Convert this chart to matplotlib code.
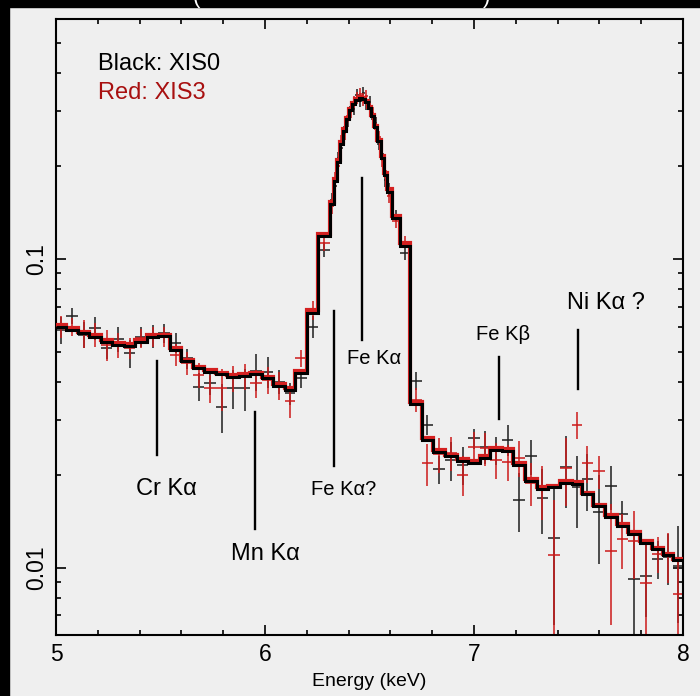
import matplotlib
matplotlib.use("Agg")
import matplotlib.pyplot as plt
import numpy as np
from matplotlib.patches import Rectangle
from matplotlib.ticker import FixedLocator, MultipleLocator, NullFormatter, LogLocator

plt.rcParams['font.family'] = ['Liberation Sans', 'DejaVu Sans']

# Spectral bin edges (keV)
edges = [5.0, 5.05, 5.105, 5.16, 5.215, 5.27, 5.325, 5.38, 5.435, 5.49, 5.545, 5.6,
         5.655, 5.71, 5.765, 5.82, 5.875, 5.93, 5.985, 6.04, 6.095, 6.145, 6.2, 6.255,
         6.311, 6.328, 6.343, 6.358, 6.373, 6.388, 6.403, 6.418, 6.433, 6.448, 6.463,
         6.478, 6.493, 6.508, 6.523, 6.538, 6.553, 6.568, 6.583, 6.606, 6.646, 6.694,
         6.75, 6.805, 6.861, 6.917, 6.973, 7.029, 7.077, 7.133, 7.188, 7.244, 7.3,
         7.355, 7.411, 7.467, 7.515, 7.571, 7.627, 7.683, 7.738, 7.794, 7.85, 7.906,
         7.954, 8.0]

# Best-fit model, XIS0
model_xis0 = [0.0600, 0.0588, 0.0574, 0.0557, 0.0539, 0.0526, 0.0523, 0.0539, 0.0557,
              0.0562, 0.0507, 0.0465, 0.0442, 0.0431, 0.0422, 0.0415, 0.0417, 0.0422,
              0.0410, 0.0387, 0.0376, 0.0425, 0.0666,
              0.1187, 0.150, 0.178, 0.205, 0.235, 0.260, 0.284, 0.303, 0.317, 0.326,
              0.331, 0.330, 0.322, 0.308, 0.290, 0.266, 0.240, 0.212, 0.186, 0.165,
              0.135, 0.110,
              0.0338, 0.0259, 0.0237, 0.0229, 0.0222, 0.0218, 0.0227, 0.0240, 0.0239,
              0.0215, 0.0190, 0.0179, 0.0182, 0.0188, 0.0187, 0.0173, 0.0158, 0.0146,
              0.0136, 0.0128, 0.0120, 0.0115, 0.0110, 0.0106]

# Best-fit model, XIS3
model_xis3 = [0.0608, 0.0595, 0.0580, 0.0565, 0.0546, 0.0532, 0.0530, 0.0546, 0.0565,
              0.0568, 0.0513, 0.0470, 0.0447, 0.0436, 0.0427, 0.0420, 0.0422, 0.0427,
              0.0415, 0.0392, 0.0381, 0.0432, 0.0680,
              0.1200, 0.153, 0.181, 0.208, 0.238, 0.262, 0.286, 0.305, 0.319, 0.328,
              0.333, 0.331, 0.323, 0.309, 0.291, 0.268, 0.242, 0.215, 0.189, 0.168,
              0.137, 0.112,
              0.0344, 0.0263, 0.0240, 0.0232, 0.0225, 0.0221, 0.0230, 0.0243, 0.0242,
              0.0218, 0.0193, 0.0182, 0.0184, 0.0190, 0.0189, 0.0175, 0.0160, 0.0148,
              0.0138, 0.0130, 0.0122, 0.0116, 0.0111, 0.0107]

# Observed counts, XIS0
data_xis0 = [0.0588, 0.0653, 0.0567, 0.0596, 0.0513, 0.0549, 0.0494, 0.0559, 0.0562,
             0.0574, 0.0535, 0.0476, 0.0385, 0.0397, 0.0332, 0.0381, 0.0381, 0.0433,
             0.0431, 0.0400, 0.0367, 0.0410, 0.0603,
             0.107, 0.155, 0.172, 0.212, 0.228, 0.266, 0.279, 0.310, 0.305, 0.338,
             0.325, 0.345, 0.318, 0.322, 0.284, 0.274, 0.236, 0.218, 0.180, 0.168,
             0.138, 0.104,
             0.0403, 0.0290, 0.0208, 0.0223, 0.0215, 0.0262, 0.0246, 0.0240, 0.0259,
             0.0166, 0.0229, 0.0168, 0.0125, 0.0211, 0.0182, 0.0193, 0.0151, 0.0184,
             0.0149, 0.0092, 0.0094, 0.0107, 0.0108, 0.0101]
err_xis0 = [0.006, 0.004, 0.0055, 0.005, 0.004, 0.005, 0.005, 0.004, 0.005, 0.004,
            0.004, 0.0035, 0.004, 0.0035, 0.006, 0.0055, 0.006, 0.006, 0.005, 0.0035,
            0.003, 0.003, 0.005,
            0.006, 0.008, 0.009, 0.010, 0.011, 0.012, 0.013, 0.014, 0.014, 0.015,
            0.015, 0.015, 0.015, 0.015, 0.013, 0.013, 0.011, 0.010, 0.009, 0.008,
            0.006, 0.005,
            0.0028, 0.0022, 0.0022, 0.0032, 0.003, 0.002, 0.003, 0.0025, 0.003,
            0.0036, 0.003, 0.004, 0.006, 0.0055, 0.0048, 0.004, 0.0048, 0.003,
            0.0015, 0.0037, 0.0025, 0.0015, 0.002, 0.0035]

# Observed counts, XIS3
data_xis3 = [0.0603, 0.0603, 0.0574, 0.0567, 0.0526, 0.0526, 0.0513, 0.0552, 0.0559,
             0.0559, 0.0488, 0.0459, 0.0420, 0.0381, 0.0381, 0.0410, 0.0415, 0.0395,
             0.0405, 0.0390, 0.0345, 0.0476, 0.0682,
             0.112, 0.148, 0.182, 0.200, 0.240, 0.255, 0.290, 0.298, 0.322, 0.331,
             0.342, 0.328, 0.336, 0.305, 0.296, 0.262, 0.248, 0.208, 0.192, 0.160,
             0.132, 0.113,
             0.0350, 0.0218, 0.0233, 0.0235, 0.0200, 0.0246, 0.0243, 0.0223, 0.0220,
             0.0226, 0.0188, 0.0178, 0.0110, 0.0210, 0.0290, 0.0218, 0.0205, 0.0113,
             0.0124, 0.0122, 0.0089, 0.0111, 0.0109, 0.0082]
err_xis3 = [0.005, 0.004, 0.006, 0.005, 0.006, 0.005, 0.004, 0.004, 0.004, 0.004,
            0.004, 0.004, 0.004, 0.004, 0.006, 0.004, 0.004, 0.004, 0.004, 0.004,
            0.004, 0.003, 0.005,
            0.006, 0.008, 0.009, 0.010, 0.011, 0.012, 0.013, 0.013, 0.014, 0.015,
            0.015, 0.015, 0.015, 0.014, 0.013, 0.012, 0.011, 0.010, 0.009, 0.008,
            0.006, 0.005,
            0.003, 0.0034, 0.003, 0.003, 0.003, 0.0028, 0.003, 0.003, 0.003, 0.003,
            0.003, 0.0035, 0.0056, 0.0052, 0.0029, 0.003, 0.0025, 0.0048, 0.0025,
            0.003, 0.0032, 0.0015, 0.002, 0.0026]

# Line identifications: label, energy, marker bottom/top, label position, size
line_names = ['Cr K\u03b1', 'Mn K\u03b1', 'Fe K\u03b1?', 'Fe K\u03b1', 'Fe K\u03b2', 'Ni K\u03b1 ?']
line_energy = [5.482, 5.952, 6.33, 6.463, 7.121, 7.499]
line_lo = [0.0232, 0.0133, 0.0213, 0.0546, 0.0303, 0.0379]
line_hi = [0.0467, 0.0320, 0.0679, 0.183, 0.0481, 0.0588]
label_x = [5.529, 6.002, 6.378, 6.524, 7.139, 7.632]
label_y = [0.01719, 0.01059, 0.01719, 0.0456, 0.0545, 0.0687]
label_size = [17, 17, 14.5, 14.5, 14.5, 17]

BG = '#efefef'
RED = '#cc1a1a'

fig = plt.figure(figsize=(7.0, 6.96), dpi=100, facecolor=BG)
# dark frame strips along the top and left edges
fig.patches.append(Rectangle((0, 1 - 7 / 696), 1, 7 / 696, transform=fig.transFigure,
                             color='black', zorder=0))
fig.patches.append(Rectangle((0, 0), 9 / 700, 1, transform=fig.transFigure,
                             color='black', zorder=0))
fig.text(196 / 700, 1 - 8 / 696, '(', color='white', fontsize=16, ha='center', va='bottom')
fig.text(487 / 700, 1 - 8 / 696, ')', color='white', fontsize=16, ha='center', va='bottom')

ax = fig.add_axes([56 / 700, 61 / 696, 627 / 700, 616 / 696], facecolor=BG)
ax.set_yscale('log')

e = np.asarray(edges)
centers = 0.5 * (e[1:] + e[:-1])
halfw = 0.5 * np.diff(e)

ax.errorbar(centers, data_xis0, xerr=halfw, yerr=err_xis0, fmt='none',
            ecolor='#1e1e1e', elinewidth=1.1, capsize=0, zorder=2)
ax.errorbar(centers, data_xis3, xerr=halfw, yerr=err_xis3, fmt='none',
            ecolor=RED, elinewidth=1.1, capsize=0, zorder=2)
ax.stairs(model_xis3, edges, baseline=None, color='#d42020', lw=3.0, zorder=3)
ax.stairs(model_xis0, edges, baseline=None, color='black', lw=2.2, zorder=4)

for name, en, lo, hi, lx, ly, fs in zip(line_names, line_energy, line_lo, line_hi,
                                        label_x, label_y, label_size):
    ax.plot([en, en], [lo, hi], color='black', lw=1.7, zorder=5)
    ax.text(lx, ly, name, fontsize=fs, ha='center', va='baseline', zorder=6)

ax.text(0.067, 0.918, 'Black: XIS0', transform=ax.transAxes, fontsize=17,
        color='black', va='baseline')
ax.text(0.067, 0.8696, 'Red: XIS3', transform=ax.transAxes, fontsize=17,
        color='#a81010', va='baseline')

ax.set_xlim(5, 8)
ax.set_ylim(0.00605, 0.597)

ax.xaxis.set_major_locator(FixedLocator([5, 6, 7, 8]))
ax.xaxis.set_minor_locator(MultipleLocator(0.2))
ax.set_yticks([0.01, 0.1])
ax.set_yticklabels(['0.01', '0.1'])
ax.yaxis.set_minor_locator(LogLocator(base=10, subs=np.arange(2, 10)))
ax.yaxis.set_minor_formatter(NullFormatter())

ax.tick_params(which='both', direction='in', top=True, right=True, width=1.2,
               colors='black')
ax.tick_params(which='major', length=7.5, labelsize=16.5)
ax.tick_params(which='minor', length=3.8)
ax.tick_params(axis='x', pad=6)
ax.tick_params(axis='y', pad=6, labelrotation=90)
for lab in ax.get_yticklabels():
    lab.set_va('center')

for sp in ax.spines.values():
    sp.set_linewidth(1.5)

ax.set_xlabel('Energy (keV)', fontsize=14, labelpad=5)

fig.savefig('out.png', dpi=100, facecolor=BG)
